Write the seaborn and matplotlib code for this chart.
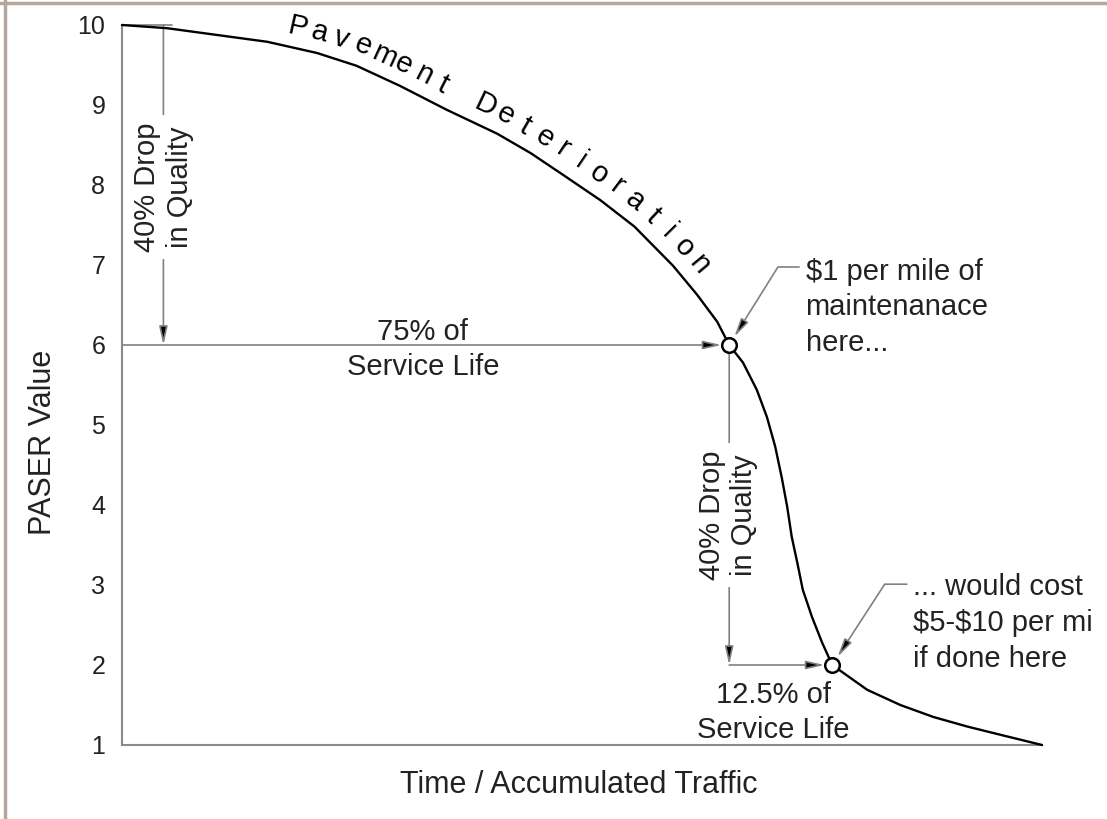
import numpy as np
import pandas as pd
import seaborn as sns
import matplotlib.pyplot as plt
from matplotlib.lines import Line2D

# curve (x = % of the drawn time axis, y = PASER)
life = [0, 4.9, 15.8, 21.2, 25.5, 30.2, 35.3, 40.8, 44.4, 47.9, 52.0, 55.7,
        59.9, 62.5, 64.7, 66.0, 67.5, 69.0, 70.1, 71.0, 71.7, 72.3, 72.8,
        73.4, 74.0, 75.0, 76.1, 77.2, 81.0, 84.6, 88.2, 91.9, 95.4, 100]
paser = [10, 9.96, 9.79, 9.65, 9.49, 9.24, 8.94, 8.64, 8.40, 8.13, 7.81, 7.48,
         6.99, 6.63, 6.29, 6.0, 5.78, 5.44, 5.10, 4.73, 4.35, 3.98, 3.60,
         3.28, 2.94, 2.60, 2.28, 2.0, 1.69, 1.50, 1.35, 1.23, 1.13, 1.0]

# the two marked points
point_x = [66.0, 77.2]
point_y = [6.0, 2.0]

yticks = list(range(1, 11))

sns.set_style("white")
plt.rcParams['font.family'] = ['Liberation Sans', 'DejaVu Sans']

fig = plt.figure(figsize=(11.07, 8.19), dpi=100)
ax = fig.add_axes([122/1107, 1-745/819, 920/1107, 720/819])

df = pd.DataFrame({'life': life, 'paser': paser})
sns.lineplot(data=df, x='life', y='paser', sort=False, color='k', lw=1.7,
             ax=ax, clip_on=False, zorder=3)
pts_df = pd.DataFrame({'x': point_x, 'y': point_y})
sns.scatterplot(data=pts_df, x='x', y='y', marker='o', s=110, color='white',
                edgecolor='k', linewidth=1.8, ax=ax, zorder=5, clip_on=False)

ax.set_xlim(0, 100)
ax.set_ylim(1, 10)
ax.set_yticks(yticks)
ax.set_xticks([])
ax.tick_params(axis='y', length=0, pad=12, labelsize=18, labelcolor='#222')
sns.despine(ax=ax)
for sp in ['left', 'bottom']:
    ax.spines[sp].set_color('#8a8a8a')
    ax.spines[sp].set_linewidth(1.5)

ax.set_ylabel('PASER Value', fontsize=22, color='#222')
ax.yaxis.set_label_coords(-0.07, 0.42)
ax.set_xlabel('Time / Accumulated Traffic', fontsize=22, color='#222')
ax.xaxis.set_label_coords(0.497, -0.035)

gray = '#808080'
fs = 21


def arrow(xy, xytext, shrinkA=0, shrinkB=0, conn='arc3'):
    ax.annotate('', xy=xy, xytext=xytext,
                arrowprops=dict(arrowstyle='-|>,head_length=1.1,head_width=0.25',
                                ec=gray, fc='k', lw=1.2, shrinkA=shrinkA,
                                shrinkB=shrinkB, connectionstyle=conn),
                annotation_clip=False, zorder=2)


# first 40% drop
ax.plot([0, 5.4], [10, 10], color=gray, lw=1.2, clip_on=False)
arrow((4.5, 6), (4.5, 10))
ax.text(4.5, 7.975, '40% Drop\nin Quality', rotation=90, ha='center', va='center',
        fontsize=fs, color='#222', zorder=4,
        bbox=dict(fc='white', ec='none', pad=5))
arrow((66, 6), (0, 6), shrinkB=5.5)
ax.text(32.7, 5.94, '75% of\nService Life', ha='center', va='center',
        fontsize=fs, color='#222', linespacing=1.3)

# second 40% drop
arrow((66, 2), (66, 6), shrinkA=5.5)
ax.text(65.9, 3.875, '40% Drop\nin Quality', rotation=90, ha='center', va='center',
        fontsize=fs, color='#222', zorder=4,
        bbox=dict(fc='white', ec='none', pad=5))
arrow((77.2, 2), (66, 2), shrinkB=5.5)
ax.text(70.8, 1.41, '12.5% of\nService Life', ha='center', va='center',
        fontsize=fs, color='#222', linespacing=1.3)

# cost notes
arrow((66, 6), (73.6, 6.975), shrinkB=7, conn='angle,angleA=180,angleB=58,rad=0')
ax.text(74.3, 6.47, '\\$1 per mile of\nmaintenanace\nhere...', ha='left', va='center',
        fontsize=fs, color='#222', linespacing=1.35)
arrow((77.2, 2), (85.3, 3.01), shrinkB=7, conn='angle,angleA=180,angleB=57,rad=0')
ax.text(86.0, 2.525, '... would cost\n\\$5-\\$10 per mi\nif done here', ha='left',
        va='center', fontsize=fs, color='#222', linespacing=1.35)

# curved label along the line
pts = ax.transData.transform(np.column_stack([life, paser]))
arc = np.concatenate([[0], np.cumsum(np.hypot(np.diff(pts[:, 0]), np.diff(pts[:, 1])))])
s0 = np.interp(18.6, life, arc)
s1 = np.interp(61.0, life, arc)
label = "Pavement Deterioration"
adv = [1.2 if c == ' ' else 1.0 for c in label]
steps = np.concatenate([[0], np.cumsum([(adv[i] + adv[i+1]) / 2 for i in range(len(label) - 1)])])
pos = s0 + steps / steps[-1] * (s1 - s0)
inv = ax.transData.inverted()
for ch, s in zip(label, pos):
    if ch == ' ':
        continue
    xa, ya = np.interp(s - 14, arc, pts[:, 0]), np.interp(s - 14, arc, pts[:, 1])
    xb, yb = np.interp(s + 14, arc, pts[:, 0]), np.interp(s + 14, arc, pts[:, 1])
    ang = np.arctan2(yb - ya, xb - xa)
    px, py = np.interp(s, arc, pts[:, 0]), np.interp(s, arc, pts[:, 1])
    bx, by = px - 13 * np.sin(ang), py + 13 * np.cos(ang)
    dx, dy = inv.transform((bx, by))
    ax.text(dx, dy, ch, rotation=np.degrees(ang), rotation_mode='anchor',
            ha='center', va='baseline', fontsize=21, color='k')

# thin frame of the original picture
fig.add_artist(Line2D([0, 1], [1 - 3/819] * 2, transform=fig.transFigure,
                      color='#b4a79d', lw=2.5))
fig.add_artist(Line2D([5/1107] * 2, [0, 1], transform=fig.transFigure,
                      color='#b4a79d', lw=2.5))

fig.savefig('out.png', dpi=100)
